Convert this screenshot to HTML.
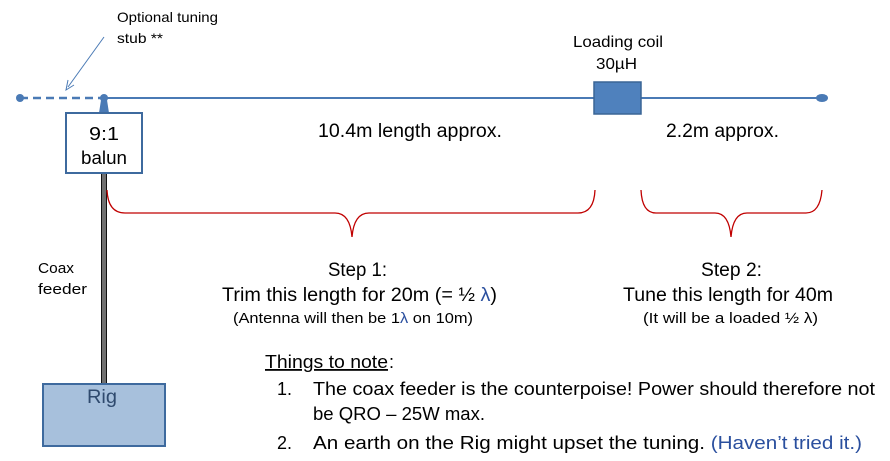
<!DOCTYPE html>
<html><head><style>
body{margin:0;background:#fff;}
svg{display:block;}
text{font-family:"Liberation Sans",sans-serif;fill:#000;}
</style></head><body>
<svg width="890" height="461" viewBox="0 0 890 461" xmlns="http://www.w3.org/2000/svg">
<line x1="20" y1="98" x2="104" y2="98" stroke="#4a7ab5" stroke-width="2.5" stroke-dasharray="8,5"/>
<circle cx="20" cy="98" r="4" fill="#4a7ab5"/>
<line x1="104" y1="98" x2="820" y2="98" stroke="#4a7ab5" stroke-width="2"/>
<ellipse cx="822" cy="98" rx="6" ry="4" fill="#4a7ab5"/>
<circle cx="104" cy="98" r="4" fill="#4a7ab5"/>
<polygon points="101,100 107,100 109,113 99,113" fill="#4a7ab5"/>
<rect x="594" y="82" width="47" height="32" fill="#4f81bd" stroke="#3a6595" stroke-width="1.5"/>
<line x1="104" y1="37" x2="68" y2="87" stroke="#4a7ab5" stroke-width="1"/>
<polyline points="68,80 66,90 74,85" fill="none" stroke="#4a7ab5" stroke-width="1"/>
<rect x="101" y="173" width="6" height="212" fill="#111"/>
<line x1="103" y1="173" x2="103" y2="385" stroke="#fff" stroke-width="0.8"/>
<line x1="105" y1="173" x2="105" y2="385" stroke="#fff" stroke-width="0.8"/>
<rect x="66" y="113" width="76" height="60" fill="#fff" stroke="#3e6a9e" stroke-width="2"/>
<text x="89" y="140" font-size="18" textLength="30" lengthAdjust="spacingAndGlyphs">9:1</text>
<text x="81" y="164" font-size="18" textLength="46" lengthAdjust="spacingAndGlyphs">balun</text>
<rect x="43" y="384" width="122" height="62" fill="#a7c0dc" stroke="#3e6a9e" stroke-width="2"/>
<text x="87" y="403" font-size="19" textLength="30" lengthAdjust="spacingAndGlyphs" style="fill:#2f4a6e">Rig</text>
<path d="M107,190 Q108,213 125,213 L335,213 Q350,213 352,237 Q354,213 369,213 L578,213 Q594,213 595,190" fill="none" stroke="#c00000" stroke-width="1.3"/>
<path d="M641,190 Q642,213 656,213 L715,213 Q729,213 731,237 Q733,213 747,213 L806,213 Q820,213 822,190" fill="none" stroke="#c00000" stroke-width="1.3"/>
<text x="117" y="22" font-size="14" textLength="101" lengthAdjust="spacingAndGlyphs">Optional tuning</text>
<text x="117" y="43" font-size="14" textLength="46" lengthAdjust="spacingAndGlyphs">stub **</text>
<text x="573" y="47" font-size="16" textLength="90" lengthAdjust="spacingAndGlyphs">Loading coil</text>
<text x="596" y="69" font-size="16" textLength="41" lengthAdjust="spacingAndGlyphs">30µH</text>
<text x="318" y="137" font-size="19" textLength="184" lengthAdjust="spacingAndGlyphs">10.4m length approx.</text>
<text x="666" y="137" font-size="19" textLength="113" lengthAdjust="spacingAndGlyphs">2.2m approx.</text>
<text x="38" y="273" font-size="15" textLength="36" lengthAdjust="spacingAndGlyphs">Coax</text>
<text x="38" y="294" font-size="15" textLength="49" lengthAdjust="spacingAndGlyphs">feeder</text>
<text x="328" y="276" font-size="19" textLength="59" lengthAdjust="spacingAndGlyphs">Step 1:</text>
<text x="222" y="301" font-size="19" textLength="275" lengthAdjust="spacingAndGlyphs">Trim this length for 20m (= ½ <tspan style="fill:#2a4f9e">λ</tspan>)</text>
<text x="233" y="323" font-size="15" textLength="240" lengthAdjust="spacingAndGlyphs">(Antenna will then be 1<tspan style="fill:#2a4f9e">λ</tspan> on 10m)</text>
<text x="701" y="276" font-size="19" textLength="61" lengthAdjust="spacingAndGlyphs">Step 2:</text>
<text x="623" y="301" font-size="19" textLength="210" lengthAdjust="spacingAndGlyphs">Tune this length for 40m</text>
<text x="643" y="323" font-size="15" textLength="175" lengthAdjust="spacingAndGlyphs">(It will be a loaded ½ λ)</text>
<text x="265" y="368" font-size="18" textLength="123" lengthAdjust="spacingAndGlyphs" text-decoration="underline">Things to note</text>
<text x="389" y="368" font-size="18">:</text>
<text x="277" y="395" font-size="18">1.</text>
<text x="313" y="395" font-size="18" textLength="562" lengthAdjust="spacingAndGlyphs">The coax feeder is the counterpoise!  Power should therefore not</text>
<text x="313" y="420" font-size="18" textLength="172" lengthAdjust="spacingAndGlyphs">be QRO – 25W max.</text>
<text x="277" y="449" font-size="18">2.</text>
<text x="313" y="449" font-size="18" textLength="549" lengthAdjust="spacingAndGlyphs">An earth on the Rig might upset the tuning. <tspan style="fill:#2a4f9e">(Haven’t tried it.)</tspan></text>
</svg>
</body></html>
